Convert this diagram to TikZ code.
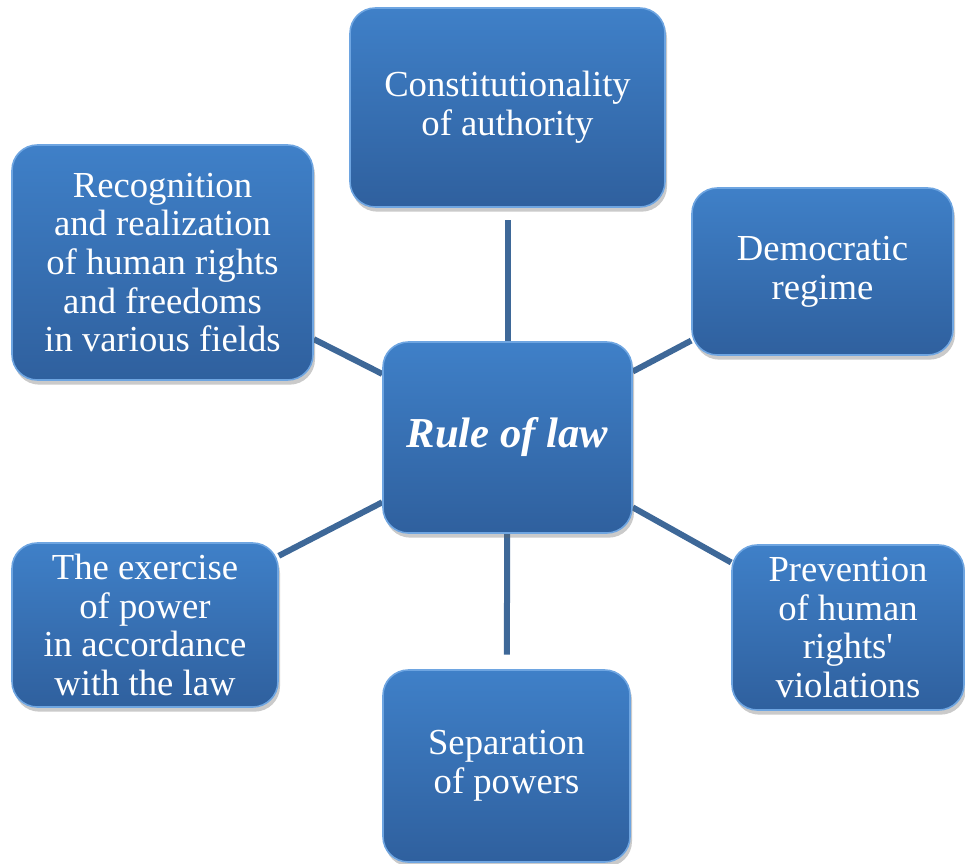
\documentclass[tikz,border=0pt]{standalone}
\usepackage{fontspec}
\setmainfont{Liberation Serif}
\usetikzlibrary{shadows,backgrounds}
\definecolor{boxtop}{RGB}{63,128,200}
\definecolor{boxbot}{RGB}{47,96,158}
\definecolor{boxrim}{RGB}{110,165,225}
\definecolor{connc}{RGB}{62,104,152}
\tikzset{
  gbox/.style={rectangle, rounded corners=19pt, inner sep=0pt, align=center,
    top color=boxtop, bottom color=boxbot, draw=boxrim, line width=1.2pt,
    text=white, font=\fontsize{27.5}{29}\selectfont,
    drop shadow={shadow xshift=1.5pt, shadow yshift=-3.5pt, opacity=0.35, fill=black!60}},
  conn/.style={draw=connc, line width=4.5pt}
}
\begin{document}
\begin{tikzpicture}[x=0.75pt, y=-0.75pt]
\useasboundingbox (0,0) rectangle (965,864);
\node[gbox, minimum width=236.25pt, minimum height=149.25pt] (con) at (507.5,107.5) {Constitutionality\\of authority};
\node[gbox, minimum width=225.75pt, minimum height=176.25pt] (rec) at (162.5,262.5) {Recognition\\and realization\\of human rights\\and freedoms\\in various fields};
\node[gbox, minimum width=195.75pt, minimum height=125.25pt] (dem) at (822.5,271.5) {Democratic\\regime};
\node[gbox, minimum width=186.75pt, minimum height=143.25pt, font=\fontsize{32}{36}\selectfont\bfseries\itshape] (rule) at (507.5,437.5) {Rule of law};
\node[gbox, minimum width=199.5pt, minimum height=123pt] (exe) at (145,625) {The exercise\\of power\\in accordance\\with the law};
\node[gbox, minimum width=174pt, minimum height=123.75pt] (prev) at (848,627.5) {Prevention\\of human\\rights\textquotesingle\\violations};
\node[gbox, minimum width=185.25pt, minimum height=144pt] (sep) at (506.5,766) {Separation\\of powers};
\begin{scope}[on background layer]
\draw[conn, shorten >=9pt] (rule) -- (con);
\draw[conn] (rule) -- (rec);
\draw[conn] (rule) -- (dem);
\draw[conn] (rule) -- (exe);
\draw[conn] (rule) -- (prev);
\draw[conn, shorten >=11pt] (rule) -- (sep);
\end{scope}
\end{tikzpicture}
\end{document}
